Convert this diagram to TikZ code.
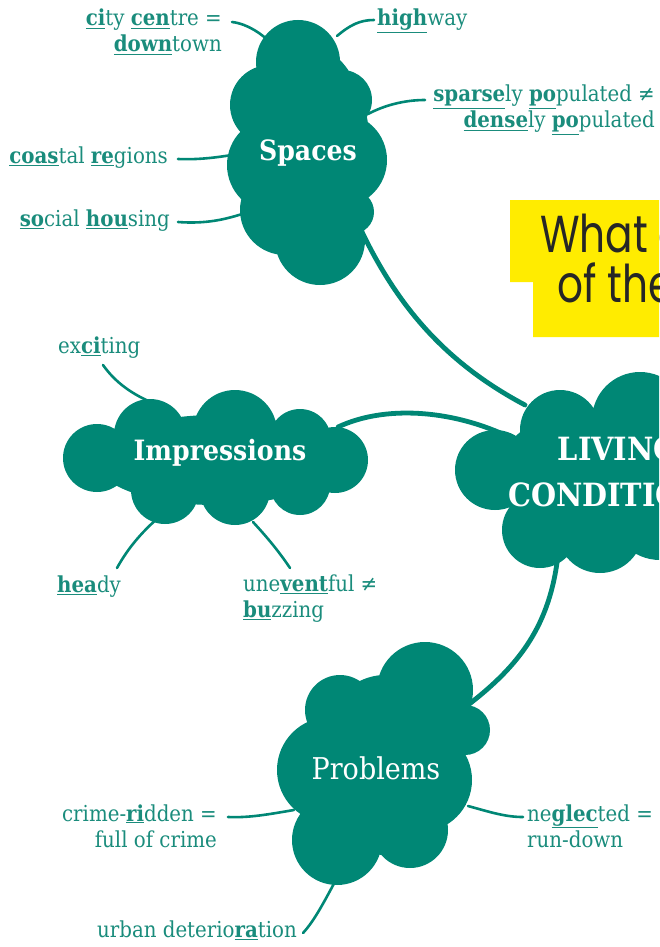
\documentclass[tikz,border=0pt]{standalone}
\usepackage{fontspec}
\usepackage{graphicx}
\setmainfont{DejaVu Serif Condensed}
\newfontfamily\quizfont{Poppins}
\usetikzlibrary{positioning}

\definecolor{mapgreen}{RGB}{0,135,117}
\definecolor{wordgreen}{RGB}{26,140,124}
\definecolor{marker}{RGB}{255,236,0}
\newcommand{\stress}[1]{\underline{\textbf{#1}}}

\tikzset{
  puff/.style={fill=mapgreen},
  twig/.style={draw=mapgreen, line width=2.6pt, line cap=round},
  stem/.style={draw=mapgreen, line width=4.8pt, line cap=round},
  word/.style={text=wordgreen, inner sep=0pt, font=\fontsize{22}{26}\selectfont},
  theme/.style={text=white, inner sep=0pt, font=\bfseries\fontsize{28}{32}\selectfont},
  quiz/.style={text=black!85, inner sep=0pt, font=\quizfont\fontsize{52}{52}\selectfont},
}

\begin{document}
\begin{tikzpicture}[x=1pt,y=-1pt]
\useasboundingbox (0,0) rectangle (659,947);
\clip (0,0) rectangle (659,947);

% question box
\fill[marker] (510,200) rectangle (670,282) (533,282) rectangle (670,337);
\node[quiz, anchor=base west] (what) at (540,252) {\scalebox{0.78}[1]{What are}};
\node[quiz, anchor=base west] (ofthe) at (557,302) {\scalebox{0.78}[1]{of the}};

% labels
\node[word, align=right, anchor=base east] (city) at (222,52) {\stress{ci}ty \stress{cen}tre =\\\stress{down}town};
\node[word, anchor=base west] (highway) at (377,26) {\stress{high}way};
\node[word, align=right, anchor=base east] (sparse) at (655,128) {\stress{sparse}ly \stress{po}pulated ≠\\\stress{dense}ly \stress{po}pulated};
\node[word, anchor=base east] (coast) at (168,163) {\stress{coas}tal \stress{re}gions};
\node[word, anchor=base east] (social) at (170,226) {\stress{so}cial \stress{hou}sing};
\node[word, anchor=base west] (exciting) at (58,353) {ex\stress{ci}ting};
\node[word, anchor=base west] (heady) at (57,592) {\stress{hea}dy};
\node[word, align=left, anchor=base west] (uneventful) at (243,617) {une\stress{vent}ful ≠\\\stress{bu}zzing};
\node[word, align=right, anchor=base east] (crime) at (217,847) {crime-\stress{ri}dden =\\full of crime};
\node[word, align=left, anchor=base west] (neglect) at (527,847) {ne\stress{glec}ted =\\run-down};
\node[word, anchor=base east] (urban) at (297,937) {urban deterio\stress{ra}tion};

% cloud edge points
\coordinate (sp-nw) at (272,44);
\coordinate (sp-n) at (337,36);
\coordinate (sp-e) at (368,114);
\coordinate (sp-w) at (238,154);
\coordinate (sp-sw) at (248,212);
\coordinate (sp-s) at (362,232);
\coordinate (im-nw) at (158,405);
\coordinate (im-e) at (338,427);
\coordinate (im-sw) at (165,512);
\coordinate (im-s) at (253,522);
\coordinate (lv-nw) at (525,405);
\coordinate (lv-w) at (505,435);
\coordinate (lv-s) at (558,555);
\coordinate (pr-ne) at (468,705);
\coordinate (pr-w) at (294,810);
\coordinate (pr-e) at (468,806);
\coordinate (pr-s) at (337,878);

% twigs
\draw[twig] ([xshift=10pt,yshift=30pt]city.base east) .. controls (248,24) and (262,34) .. (sp-nw);
\draw[twig] (sp-n) .. controls (350,25) and (360,20) .. ([xshift=-3pt,yshift=6pt]highway.base west);
\draw[twig] (sp-e) .. controls (385,105) and (405,100) .. ([xshift=-8pt,yshift=28pt]sparse.base west);
\draw[twig] ([xshift=10pt,yshift=4pt]coast.base east) .. controls (200,160) and (220,157) .. (sp-w);
\draw[twig] ([xshift=8pt,yshift=4pt]social.base east) .. controls (205,224) and (225,220) .. (sp-sw);
\draw[twig] ([xshift=45pt,yshift=-12pt]exciting.base west) .. controls (115,382) and (132,395) .. (im-nw);
\draw[twig] ([xshift=60pt,yshift=24pt]heady.base west) .. controls (128,548) and (143,530) .. (im-sw);
\draw[twig] (im-s) .. controls (265,535) and (278,550) .. ([xshift=47pt,yshift=49pt]uneventful.base west);
\draw[twig] ([xshift=11pt,yshift=30pt]crime.base east) .. controls (250,818) and (270,814) .. (pr-w);
\draw[twig] (pr-e) .. controls (490,812) and (505,817) .. ([xshift=-4pt,yshift=30pt]neglect.base west);
\draw[twig] ([xshift=6pt,yshift=4pt]urban.base east) .. controls (315,920) and (325,900) .. (pr-s);

% stems
\draw[stem] (sp-s) .. controls (395,300) and (440,360) .. (lv-nw);
\draw[stem] (im-e) .. controls (385,405) and (450,410) .. (lv-w);
\draw[stem] (lv-s) .. controls (550,625) and (520,665) .. (pr-ne);

% clouds
\fill[puff] (298,62) circle[radius=42] (270,105) circle[radius=40] (342,100) circle[radius=30]
  (275,165) circle[radius=48] (340,160) circle[radius=47] (285,210) circle[radius=45]
  (320,240) circle[radius=45] (352,212) circle[radius=22] (308,150) ellipse[x radius=62,y radius=105];
\fill[puff] (97,458) circle[radius=34] (150,435) circle[radius=36] (235,432) circle[radius=42]
  (300,440) circle[radius=31] (335,460) circle[radius=33] (165,490) circle[radius=34]
  (235,490) circle[radius=35] (300,485) circle[radius=30] (215,460) ellipse[x radius=120,y radius=45];
\fill[puff] (495,470) circle[radius=40] (560,430) circle[radius=40] (640,420) circle[radius=48]
  (540,530) circle[radius=38] (600,530) circle[radius=43] (660,510) circle[radius=50]
  (590,470) ellipse[x radius=90,y radius=60];
\fill[puff] (425,690) circle[radius=48] (340,710) circle[radius=35] (465,730) circle[radius=25]
  (330,770) circle[radius=53] (420,780) circle[radius=52] (337,840) circle[radius=45]
  (410,830) circle[radius=38] (385,765) ellipse[x radius=70,y radius=90];

% cloud titles
\node[theme] (spaces) at (308,153) {Spaces};
\node[theme] (impressions) at (220,453) {Impressions};
\node[theme, font=\fontsize{30}{34}\selectfont] (problems) at (376,768) {Problems};
\node[theme, align=center, font=\bfseries\fontsize{32}{46}\selectfont] (living) at (618,472) {LIVING\\CONDITIONS};
\end{tikzpicture}
\end{document}
